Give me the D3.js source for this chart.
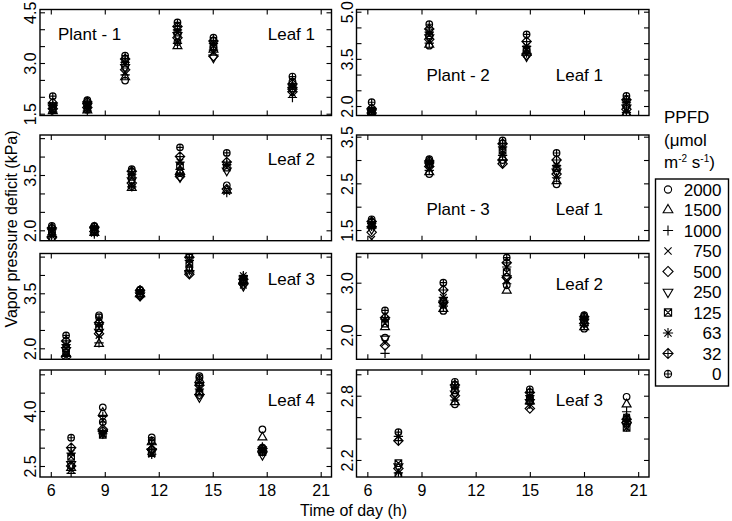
<!DOCTYPE html>
<html><head><meta charset="utf-8">
<script src="https://cdn.jsdelivr.net/npm/d3@7"></script>
<style>
body{margin:0;background:#fff}
svg text{font-family:"Liberation Sans",Arial,Helvetica,sans-serif;fill:#000}
</style>
</head><body>
<svg id="c" width="732" height="521" xmlns="http://www.w3.org/2000/svg"></svg>
<script>
// ---------- data ----------
const ppfdLevels = [2000, 1500, 1000, 750, 500, 250, 125, 63, 32, 0];
const ppfdLabels = ["2000", "1500", "1000", "750", "500", "250", "125", "63", "32", "0"];
const xTicks = [6, 9, 12, 15, 18, 21];

// Plant 1 Leaf 1
const p1l1Times = [6.11, 8.03, 10.13, 13.04, 15.04, 19.43];
const p1l1Vpd = [
  [1.62,1.58,1.55,1.60,1.65,1.68,1.72,1.75,1.82,2.02],
  [1.62,1.60,1.58,1.65,1.68,1.72,1.75,1.80,1.85,1.90],
  [2.48,2.58,2.65,2.72,2.80,2.88,2.95,3.02,3.12,3.22],
  [3.62,3.50,3.58,3.68,3.75,3.82,3.90,3.98,4.08,4.20],
  [3.45,3.40,3.38,3.30,3.20,3.16,3.50,3.58,3.65,3.75],
  [2.45,2.30,1.98,2.10,2.15,2.20,2.25,2.32,2.38,2.60]
];
const p1l1YTicks = [1.5, 2.0, 2.5, 3.0, 3.5, 4.0, 4.5];
const p1l1YLabels = [1.5, 3.0, 4.5];

// Plant 2 Leaf 1
const p2l1Times = [6.24, 9.43, 14.82, 20.35];
const p2l1Vpd = [
  [1.75,1.73,1.72,1.76,1.78,1.80,1.85,1.88,1.92,2.12],
  [3.92,3.95,4.00,4.05,4.12,4.18,4.25,4.35,4.45,4.60],
  [3.75,3.70,3.68,3.65,3.62,3.58,3.80,3.90,4.05,4.28],
  [1.75,1.78,1.80,1.85,1.90,1.95,2.05,2.12,2.20,2.32]
];
const p2l1YTicks = [2.0, 2.5, 3.0, 3.5, 4.0, 4.5, 5.0];
const p2l1YLabels = [2.0, 3.5, 5.0];

// Plant 1 Leaf 2
const p1l2Times = [6.06, 8.42, 10.5, 13.18, 15.78];
const p1l2Vpd = [
  [1.95,1.90,1.88,1.85,1.80,1.76,1.98,2.02,2.06,2.12],
  [1.95,1.93,1.90,1.92,1.97,2.00,2.03,2.06,2.09,2.12],
  [3.20,3.15,3.18,3.22,3.28,3.35,3.45,3.52,3.60,3.66],
  [3.55,3.60,3.65,3.50,3.46,3.44,3.75,3.85,4.00,4.25],
  [3.22,3.08,3.02,3.05,3.12,3.62,3.70,3.78,3.85,4.10]
];
const p1l2YTicks = [2.0, 2.5, 3.0, 3.5, 4.0, 4.5];
const p1l2YLabels = [2.0, 3.5];

// Plant 3 Leaf 1
const p3l1Times = [6.24, 9.43, 13.49, 16.48];
const p3l1Vpd = [
  [1.62,1.60,1.58,1.30,1.45,1.52,1.60,1.64,1.68,1.73],
  [2.70,2.74,2.78,2.82,2.86,2.88,2.92,2.95,2.98,3.02],
  [3.00,3.05,3.10,3.15,2.92,2.95,3.20,3.28,3.35,3.42],
  [2.48,2.55,2.62,2.66,2.70,2.75,2.82,2.88,3.00,3.15]
];
const p3l1YTicks = [1.5, 2.0, 2.5, 3.0, 3.5];
const p3l1YLabels = [1.5, 2.5, 3.5];

// Plant 1 Leaf 3
const p1l3Times = [6.85, 8.68, 10.96, 13.7, 16.7];
const p1l3Vpd = [
  [1.90,1.85,1.80,1.78,1.76,1.95,2.00,2.10,2.20,2.35],
  [2.90,2.12,2.15,2.35,2.40,2.45,2.55,2.65,2.70,2.85],
  [3.45,3.48,3.50,3.52,3.42,3.44,3.50,3.55,3.58,3.60],
  [4.20,4.15,4.12,4.08,4.02,4.05,4.30,4.40,4.48,4.56],
  [3.82,3.85,3.95,3.72,3.75,3.70,3.90,3.98,3.88,3.80]
];
const p1l3YTicks = [2.0, 2.5, 3.0, 3.5, 4.0, 4.5];
const p1l3YLabels = [2.0, 3.5];

// Plant 3 Leaf 2
const p3l2Times = [6.98, 10.21, 13.72, 18.01];
const p3l2Vpd = [
  [1.95,2.15,1.65,1.85,1.80,1.93,2.22,2.30,2.33,2.47],
  [2.46,2.50,2.55,2.58,2.62,2.60,2.64,2.72,2.86,3.00],
  [2.95,2.85,2.98,3.05,3.10,3.08,3.20,3.30,3.38,3.48],
  [2.12,2.15,2.18,2.20,2.22,2.25,2.28,2.32,2.35,2.38]
];
const p3l2YTicks = [2.0, 2.5, 3.0, 3.5];
const p3l2YLabels = [2.0, 3.0];

// Plant 1 Leaf 4
const p1l4Times = [7.13, 8.89, 11.61, 14.26, 17.76];
const p1l4Vpd = [
  [2.50,2.45,2.30,2.40,2.50,2.55,2.75,2.85,3.00,3.27],
  [4.10,3.95,3.85,3.75,3.50,3.40,3.35,3.38,3.45,3.70],
  [3.28,3.15,3.10,3.05,2.95,2.90,2.85,2.82,2.95,3.20],
  [4.95,4.85,4.75,4.65,4.45,4.38,4.50,4.60,4.70,4.90],
  [3.50,3.28,3.02,2.95,2.90,2.80,2.88,2.92,2.98,3.00]
];
const p1l4YTicks = [2.5, 3.0, 3.5, 4.0, 4.5, 5.0];
const p1l4YLabels = [2.5, 4.0];

// Plant 3 Leaf 3
const p3l3Times = [7.72, 10.85, 15.0, 20.36];
const p3l3Vpd = [
  [2.06,2.05,2.08,2.10,2.12,2.14,2.17,2.42,2.38,2.46],
  [2.72,2.74,2.76,2.78,2.80,2.82,2.85,2.88,2.90,2.93],
  [2.78,2.75,2.72,2.70,2.68,2.74,2.77,2.80,2.83,2.86],
  [2.79,2.72,2.65,2.60,2.55,2.52,2.50,2.56,2.58,2.60]
];
const p3l3YTicks = [2.2, 2.4, 2.6, 2.8, 3.0];
const p3l3YLabels = [2.2, 2.8];

// ---------- layout ----------
const xDomain = [5.4, 21.6];
const cols = [[40, 331.5], [356.5, 649]];
const rows = [[9.5, 115.5], [135, 240.7], [253.5, 359.3], [370, 477]];

const panels = [
  {col:0,row:0,times:p1l1Times,vpd:p1l1Vpd,yDom:[1.447,4.583],yt:p1l1YTicks,yl:p1l1YLabels,
   texts:[{t:"Plant - 1",x:58,y:40,a:"start"},{t:"Leaf 1",x:315,y:40,a:"end"}]},
  {col:1,row:0,times:p2l1Times,vpd:p2l1Vpd,yDom:[1.698,5.07],yt:p2l1YTicks,yl:p2l1YLabels,
   texts:[{t:"Plant - 2",x:426.5,y:81,a:"start"},{t:"Leaf 1",x:603,y:81,a:"end"}]},
  {col:0,row:1,times:p1l2Times,vpd:p1l2Vpd,yDom:[1.718,4.585],yt:p1l2YTicks,yl:p1l2YLabels,
   texts:[{t:"Leaf 2",x:315,y:165,a:"end"}]},
  {col:1,row:1,times:p3l1Times,vpd:p3l1Vpd,yDom:[1.271,3.536],yt:p3l1YTicks,yl:p3l1YLabels,
   texts:[{t:"Plant - 3",x:426.5,y:215,a:"start"},{t:"Leaf 1",x:603,y:215,a:"end"}]},
  {col:0,row:2,times:p1l3Times,vpd:p1l3Vpd,yDom:[1.70,4.585],yt:p1l3YTicks,yl:p1l3YLabels,
   texts:[{t:"Leaf 3",x:315,y:285,a:"end"}]},
  {col:1,row:2,times:p3l2Times,vpd:p3l2Vpd,yDom:[1.535,3.558],yt:p3l2YTicks,yl:p3l2YLabels,
   texts:[{t:"Leaf 2",x:603,y:290,a:"end"}]},
  {col:0,row:3,times:p1l4Times,vpd:p1l4Vpd,yDom:[2.2,5.118],yt:p1l4YTicks,yl:p1l4YLabels,
   texts:[{t:"Leaf 4",x:315,y:406,a:"end"}]},
  {col:1,row:3,times:p3l3Times,vpd:p3l3Vpd,yDom:[2.041,3.04],yt:p3l3YTicks,yl:p3l3YLabels,
   texts:[{t:"Leaf 3",x:603,y:406,a:"end"}]}
];

// R-style pch symbols 1..10
function symPath(k, r) {
  const s = Math.SQRT2 * r;
  const circ = `M${r},0A${r},${r} 0 1,1 ${-r},0A${r},${r} 0 1,1 ${r},0Z`;
  const t0 = 1.5551 * r, t1 = 1.3468 * r, t2 = 0.7775 * r;
  switch (k) {
    case 0: return circ;
    case 1: return `M0,${-t0}L${t1},${t2}L${-t1},${t2}Z`;
    case 2: return `M${-s},0H${s}M0,${-s}V${s}`;
    case 3: return `M${-r},${-r}L${r},${r}M${-r},${r}L${r},${-r}`;
    case 4: return `M0,${-s}L${s},0L0,${s}L${-s},0Z`;
    case 5: return `M0,${t0}L${t1},${-t2}L${-t1},${-t2}Z`;
    case 6: return `M${-r},${-r}H${r}V${r}H${-r}ZM${-r},${-r}L${r},${r}M${-r},${r}L${r},${-r}`;
    case 7: return `M${-r},${-r}L${r},${r}M${-r},${r}L${r},${-r}M${-s},0H${s}M0,${-s}V${s}`;
    case 8: return `M0,${-s}L${s},0L0,${s}L${-s},0ZM${-s},0H${s}M0,${-s}V${s}`;
    case 9: return circ + `M${-r},0H${r}M0,${-r}V${r}`;
  }
}

const svg = d3.select("#c");
const fmt = d3.format(".1f");
const symR = 3.3;
const tick = 5;

panels.forEach((p, pi) => {
  const [x0, x1] = cols[p.col];
  const [y0, y1] = rows[p.row];
  const x = d3.scaleLinear().domain(xDomain).range([x0, x1]);
  const y = d3.scaleLinear().domain(p.yDom).range([y1, y0]);
  const g = svg.append("g");

  const clipId = "clip" + pi;
  g.append("clipPath").attr("id", clipId).append("rect")
    .attr("x", x0).attr("y", y0).attr("width", x1 - x0).attr("height", y1 - y0);

  // points
  const pts = [];
  p.times.forEach((t, i) => p.vpd[i].forEach((v, j) => pts.push({t, v, j})));
  g.append("g").attr("clip-path", `url(#${clipId})`)
    .selectAll("path").data(pts).join("path")
    .attr("transform", d => `translate(${x(d.t)},${y(d.v)})`)
    .attr("d", d => symPath(d.j, symR))
    .attr("fill", "none").attr("stroke", "#000").attr("stroke-width", 1.2);

  // axes
  const bottom = p.row === 3;
  const axB = g.append("g").attr("transform", `translate(0,${y1})`)
    .call(d3.axisBottom(x).tickValues(xTicks).tickSize(-tick).tickSizeOuter(0).tickPadding(8)
      .tickFormat(d => bottom ? d : ""));
  const axT = g.append("g").attr("transform", `translate(0,${y0})`)
    .call(d3.axisTop(x).tickValues(xTicks).tickSize(-tick).tickSizeOuter(0).tickFormat(""));
  const axL = g.append("g").attr("transform", `translate(${x0},0)`)
    .call(d3.axisLeft(y).tickValues(p.yt).tickSize(-tick).tickSizeOuter(0)
      .tickFormat(d => p.yl.some(l => Math.abs(l - d) < 1e-9) ? fmt(d) : ""));
  const axR = g.append("g").attr("transform", `translate(${x1},0)`)
    .call(d3.axisRight(y).tickValues(p.yt).tickSize(-tick).tickSizeOuter(0).tickFormat(""));
  [axB, axT, axL, axR].forEach(a => {
    a.select(".domain").remove();
    a.selectAll("line").attr("stroke", "#000").attr("stroke-width", 1.1);
    a.selectAll("text").attr("font-size", 16).attr("fill", "#000")
      .style("font-family", '"Liberation Sans",Arial,sans-serif');
  });
  axL.selectAll("text")
    .attr("x", 0).attr("y", -4).attr("dy", null)
    .attr("text-anchor", "middle").attr("transform", "rotate(-90)");

  g.append("rect").attr("x", x0).attr("y", y0).attr("width", x1 - x0).attr("height", y1 - y0)
    .attr("fill", "none").attr("stroke", "#000").attr("stroke-width", 1.4);

  p.texts.forEach(tx => g.append("text").attr("x", tx.x).attr("y", tx.y)
    .attr("text-anchor", tx.a).attr("font-size", 17).text(tx.t));
});

// axis titles
svg.append("text").attr("x", 353.5).attr("y", 516).attr("text-anchor", "middle")
  .attr("font-size", 16).text("Time of day (h)");
svg.append("text").attr("transform", "translate(17,229) rotate(-90)").attr("text-anchor", "middle")
  .attr("font-size", 16).text("Vapor pressure deficit (kPa)");

// legend
const lg = svg.append("g");
lg.append("text").attr("x", 664).attr("y", 123).attr("font-size", 17).text("PPFD");
lg.append("text").attr("x", 664).attr("y", 146).attr("font-size", 17).text("(μmol");
const t3 = lg.append("text").attr("x", 664).attr("y", 168).attr("font-size", 17);
t3.append("tspan").text("m");
t3.append("tspan").attr("dy", -6).attr("font-size", 10).text("-2");
t3.append("tspan").attr("dy", 6).text(" s");
t3.append("tspan").attr("dy", -6).attr("font-size", 10).text("-1");
t3.append("tspan").attr("dy", 6).text(")");

lg.append("rect").attr("x", 655.5).attr("y", 179).attr("width", 73).attr("height", 207)
  .attr("fill", "none").attr("stroke", "#000").attr("stroke-width", 1.4);
const ly = d3.scalePoint().domain(ppfdLabels).range([189.5, 374]);
ppfdLabels.forEach((lab, i) => {
  lg.append("path").attr("transform", `translate(668,${ly(lab)})`)
    .attr("d", symPath(i, 3.6)).attr("fill", "none").attr("stroke", "#000").attr("stroke-width", 1.1);
  lg.append("text").attr("x", 721.5).attr("y", ly(lab)).attr("dy", "0.36em")
    .attr("text-anchor", "end").attr("font-size", 17).text(lab);
});
</script>
</body></html>
